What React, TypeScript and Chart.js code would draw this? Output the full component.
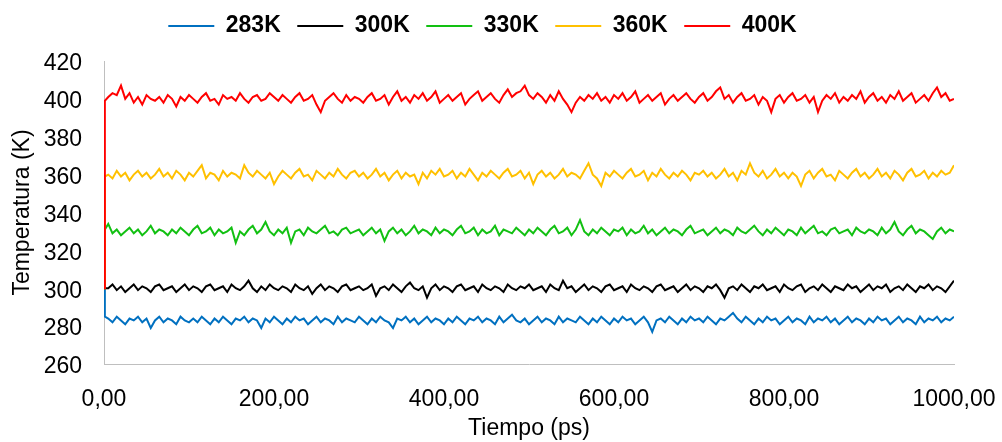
import { useEffect, useRef } from "react";
import { Chart, registerables } from "chart.js";

Chart.register(...registerables);

// Time axis (ps): start, first step, then every 5 ps
const TIMES = [0, 1, ...Array.from({ length: 200 }, (_, i) => (i + 1) * 5)];

const SERIES_LABELS = ["283K", "300K", "330K", "360K", "400K"];
const SERIES_COLORS = ["#0070C0", "#000000", "#12C012", "#FFC000", "#FF0000"];

const T283 = [
  300, 285,
  284, 282, 285, 283, 281, 284, 283, 285, 282, 284, 279, 283, 285, 282, 284, 283, 281, 285, 283, 282,
  284, 282, 285, 283, 281, 284, 282, 285, 283, 281, 284, 283, 285, 282, 284, 283, 279, 284, 282, 285,
  283, 281, 284, 282, 285, 283, 284, 281, 283, 285, 282, 284, 283, 281, 285, 282, 284, 283, 282, 285,
  283, 281, 284, 282, 285, 283, 282, 279, 284, 283, 285, 282, 284, 281, 283, 285, 282, 284, 283, 281,
  284, 282, 285, 283, 281, 284, 283, 285, 282, 284, 283, 281, 285, 282, 284, 286, 283, 282, 284, 281,
  283, 285, 282, 284, 283, 281, 285, 282, 284, 283, 282, 285, 283, 281, 284, 282, 285, 283, 281, 284,
  282, 285, 283, 284, 281, 283, 285, 282, 277, 283, 284, 282, 285, 283, 281, 284, 282, 285, 283, 284,
  282, 285, 283, 281, 284, 283, 285, 287, 284, 282, 285, 283, 281, 284, 282, 285, 283, 284, 281, 283,
  285, 282, 284, 283, 281, 285, 282, 284, 283, 285, 282, 284, 281, 283, 285, 282, 284, 283, 281, 284,
  282, 285, 283, 284, 281, 283, 285, 282, 284, 283, 281, 285, 282, 284, 283, 285, 282, 284, 283, 285,
];

const T300 = [
  300, 300,
  300, 302, 299, 301, 298, 300, 302, 299, 301, 300, 298, 301, 302, 299, 300, 301, 298, 300, 302, 299,
  301, 300, 298, 301, 302, 299, 300, 301, 298, 302, 300, 299, 301, 304, 300, 298, 301, 299, 302, 300,
  299, 301, 300, 298, 302, 300, 299, 301, 297, 300, 302, 299, 301, 300, 298, 301, 302, 299, 300, 301,
  299, 300, 302, 296, 300, 301, 299, 302, 300, 298, 301, 303, 300, 299, 301, 295, 300, 302, 299, 301,
  300, 298, 301, 302, 299, 300, 301, 298, 302, 300, 299, 301, 300, 298, 302, 300, 299, 301, 300, 302,
  299, 300, 301, 298, 302, 300, 299, 304, 300, 301, 298, 300, 302, 299, 301, 300, 298, 301, 302, 299,
  300, 301, 298, 302, 300, 299, 301, 300, 298, 301, 302, 299, 300, 301, 298, 300, 302, 299, 301, 300,
  298, 301, 300, 302, 299, 295, 300, 301, 299, 302, 300, 298, 301, 300, 302, 299, 300, 301, 298, 302,
  300, 299, 301, 302, 298, 300, 301, 299, 302, 300, 298, 301, 300, 299, 302, 300, 301, 298, 300, 302,
  299, 301, 300, 302, 298, 300, 301, 299, 302, 300, 298, 301, 300, 302, 299, 301, 300, 298, 301, 304,
];

const T330 = [
  300, 331,
  334, 329, 331, 328, 330, 332, 329, 331, 328, 330, 333, 329, 331, 330, 328, 331, 329, 332, 330, 328,
  331, 333, 329, 330, 332, 328, 331, 329, 330, 332, 324, 330, 328, 331, 333, 329, 331, 335, 330, 328,
  331, 329, 332, 324, 330, 331, 328, 332, 330, 329, 331, 333, 329, 330, 328, 331, 332, 329, 330, 331,
  328, 330, 332, 329, 331, 325, 330, 332, 329, 331, 328, 330, 333, 329, 331, 330, 328, 332, 329, 331,
  330, 328, 331, 333, 329, 330, 332, 328, 331, 329, 330, 333, 328, 331, 330, 329, 332, 330, 328, 331,
  329, 332, 330, 328, 331, 333, 329, 330, 332, 328, 331, 336, 330, 328, 331, 329, 332, 330, 328, 331,
  330, 332, 328, 331, 329, 330, 333, 329, 331, 328, 330, 332, 329, 331, 330, 328, 331, 333, 329, 330,
  331, 328, 330, 332, 329, 331, 330, 328, 332, 330, 329, 331, 333, 330, 328, 331, 329, 332, 330, 328,
  331, 330, 328, 332, 329, 331, 333, 329, 330, 328, 331, 332, 329, 330, 331, 328, 332, 330, 329, 331,
  330, 328, 332, 329, 331, 335, 330, 328, 331, 333, 329, 331, 330, 328, 326, 330, 332, 329, 331, 330,
];

const T360 = [
  300, 359,
  360, 358, 362, 359, 361, 357, 360, 362, 359, 361, 358, 360, 363, 359, 361, 358, 362, 360, 357, 361,
  359, 362, 365, 358, 361, 360, 357, 362, 359, 361, 360, 358, 365, 361, 359, 362, 360, 358, 361, 355,
  359, 362, 360, 358, 361, 363, 359, 360, 357, 362, 360, 358, 361, 359, 363, 360, 358, 361, 362, 359,
  361, 358, 360, 363, 359, 361, 357, 360, 362, 358, 361, 359, 360, 355, 361, 358, 362, 360, 363, 359,
  360, 362, 358, 361, 359, 363, 360, 357, 361, 359, 362, 360, 358, 361, 363, 359, 360, 362, 358, 361,
  355, 360, 362, 359, 361, 358, 360, 363, 359, 361, 360, 358, 362, 366, 360, 358, 354, 361, 359, 362,
  360, 358, 361, 363, 359, 360, 362, 357, 361, 359, 363, 360, 358, 361, 359, 362, 360, 357, 361, 360,
  362, 359, 361, 358, 360, 363, 359, 361, 357, 362, 360, 366, 361, 359, 362, 358, 360, 363, 359, 361,
  358, 361, 359, 354, 360, 362, 358, 361, 363, 359, 360, 357, 362, 360, 358, 361, 363, 359, 361, 358,
  360, 363, 359, 361, 358, 362, 360, 357, 361, 363, 359, 360, 362, 358, 361, 359, 362, 360, 361, 365,
];

const T400 = [
  300, 399,
  401, 403, 402, 407, 400, 403, 398, 401, 397, 402, 400, 399, 401, 398, 402, 400, 396, 401, 399, 402,
  400, 398, 401, 403, 399, 400, 397, 402, 400, 401, 399, 403, 400, 398, 401, 402, 399, 400, 403, 401,
  399, 402, 400, 398, 401, 403, 399, 400, 402, 397, 393, 399, 401, 403, 400, 398, 402, 399, 401, 400,
  398, 401, 403, 399, 400, 402, 397, 401, 404, 399, 401, 398, 402, 400, 403, 399, 401, 404, 398, 400,
  402, 399, 401, 403, 397, 400, 402, 404, 399, 401, 403, 400, 398, 402, 405, 401, 403, 404, 407, 402,
  400, 403, 401, 398, 402, 399, 404, 400, 397, 393, 398, 401, 399, 402, 400, 403, 399, 401, 398, 402,
  400, 403, 399, 401, 404, 398, 400, 402, 399, 401, 403, 397, 400, 402, 399, 401, 403, 400, 398, 401,
  403, 399, 401, 404, 406, 400, 402, 398, 401, 403, 399, 400, 402, 397, 401, 399, 393, 400, 402, 398,
  401, 403, 399, 400, 402, 398, 401, 393, 399, 402, 400, 403, 398, 401, 399, 402, 400, 404, 398, 401,
  403, 399, 401, 398, 402, 400, 404, 399, 401, 403, 398, 400, 402, 399, 403, 406, 401, 403, 399, 400,
];

const SERIES_VALUES = [T283, T300, T330, T360, T400];

const X_MIN = 0;
const X_MAX = 1000;
const X_STEP = 200;
const Y_MIN = 260;
const Y_MAX = 420;
const Y_STEP = 20;

const FONT = "'Liberation Sans', Arial, sans-serif";

export default function App() {
  const ref = useRef<HTMLCanvasElement | null>(null);

  useEffect(() => {
    document.body.style.margin = "0";
    const canvas = ref.current;
    if (!canvas) return;

    const legendTweak = {
      id: "legendTweak",
      beforeInit(chart: any) {
        const fit = chart.legend.fit;
        chart.legend.fit = function () {
          fit.call(this);
          this.height = 61;
        };
      },
      afterLayout(chart: any) {
        const lg = chart.legend;
        if (lg) {
          lg.left += 5.5;
          lg.right += 5.5;
          lg.top -= 2;
        }
      },
    };

    const datasets = SERIES_LABELS.map((label, i) => ({
      label,
      data: TIMES.map((t, j) => ({ x: t, y: SERIES_VALUES[i][j] })),
      borderColor: SERIES_COLORS[i],
      backgroundColor: SERIES_COLORS[i],
      borderWidth: 2,
      pointRadius: 0,
      tension: 0,
      order: SERIES_LABELS.length - i,
    }));

    const chart = new Chart(canvas, {
      type: "line",
      data: { datasets },
      plugins: [legendTweak],
      options: {
        animation: false,
        responsive: false,
        maintainAspectRatio: false,
        layout: { padding: { left: 0, right: 48, top: 0, bottom: 0 } },
        plugins: {
          tooltip: { enabled: false },
          legend: {
            display: true,
            position: "top",
            align: "center",
            labels: {
              usePointStyle: true,
              pointStyle: "line",
              pointStyleWidth: 46,
              padding: 16.5,
              color: "#000",
              font: { family: FONT, size: 23, weight: "bold" },
              sort: (a: any, b: any) => a.datasetIndex - b.datasetIndex,
            },
          },
        },
        scales: {
          x: {
            type: "linear",
            min: X_MIN,
            max: X_MAX,
            afterFit: (s: any) => {
              s.height = 78;
              s.paddingLeft = 0;
              s.paddingRight = 0;
            },
            grid: { display: false, drawTicks: false },
            border: { display: true, color: "#BFBFBF", width: 1 },
            ticks: {
              stepSize: X_STEP,
              padding: 22,
              color: "#000",
              font: { family: FONT, size: 23 },
              maxRotation: 0,
              callback: (v: any) => Number(v).toFixed(2).replace(".", ","),
            },
            title: {
              display: true,
              text: "Tiempo (ps)",
              color: "#000",
              font: { family: FONT, size: 23 },
              padding: { top: 0, bottom: 0 },
            },
          },
          y: {
            type: "linear",
            min: Y_MIN,
            max: Y_MAX,
            afterFit: (s: any) => {
              s.width = 104;
              s.paddingTop = 0;
              s.paddingBottom = 0;
            },
            grid: { display: false, drawTicks: false },
            border: { display: true, color: "#BFBFBF", width: 1 },
            ticks: {
              stepSize: Y_STEP,
              padding: 22,
              labelOffset: 3,
              color: "#000",
              font: { family: FONT, size: 23 },
            },
            title: {
              display: true,
              text: "Temperatura (K)",
              color: "#000",
              font: { family: FONT, size: 23 },
              padding: { top: 9, bottom: 0 },
            },
          },
        },
      },
    });

    return () => chart.destroy();
  }, []);

  return (
    <div style={{ position: "absolute", left: 0, top: 0, width: 1002, height: 442, background: "#fff" }}>
      <canvas ref={ref} width={1002} height={442} style={{ width: 1002, height: 442, display: "block" }} />
    </div>
  );
}
